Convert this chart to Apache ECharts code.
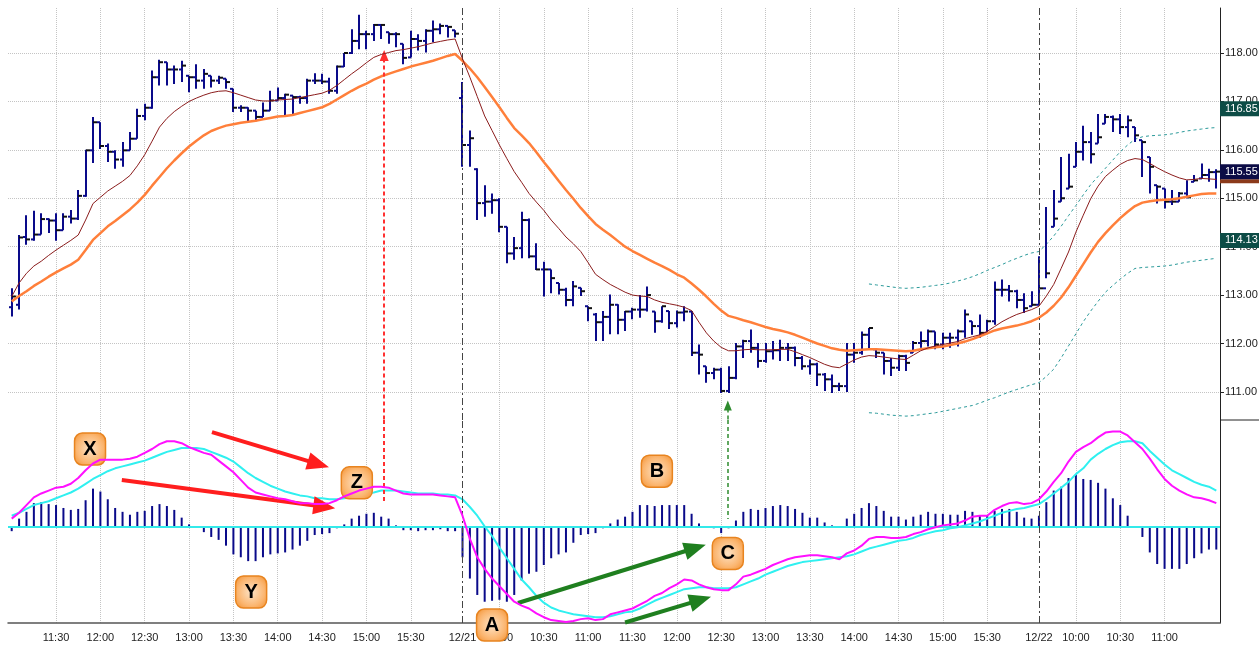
<!DOCTYPE html>
<html>
<head>
<meta charset="utf-8">
<title>Price bars with MACD</title>
<script src="https://cdn.jsdelivr.net/npm/echarts@6/dist/echarts.min.js"></script>
<style>
html, body { margin: 0; padding: 0; background: #fff; }
#main { width: 1259px; height: 647px; }
</style>
</head>
<body>
<div id="main"></div>
<script>
// sessions of 5 minute bars: date, first bar, number of bars
var sessions = [['12/20', '11:00', 61], ['12/21', '09:35', 78], ['12/22', '09:35', 25]];

// bars that get a time label / grid line (index into categories)
var tickIdx = [6, 12, 18, 24, 30, 36, 42, 48, 54, 61, 66, 72, 78, 84, 90, 96, 102, 108, 114, 120, 126, 132, 139, 144, 150, 156];

// price axis labels
var priceTicks = [111, 112, 113, 114, 115, 116, 117, 118];
var priceFlags = [116.85, 115.55, 114.13];

// ---- OHLC, day by day ----
var open1 = [112.75, 112.8, 114.2, 114.15, 114.25, 114.57, 114.54, 114.34, 114.62, 114.58,
  115.05, 115.99, 116.57, 116.08, 115.96, 115.8, 115.99, 116.23, 116.7, 116.87,
  117.5, 117.81, 117.66, 117.66, 117.53, 117.5, 117.43, 117.53, 117.43, 117.47,
  117.26, 116.87, 116.87, 116.81, 116.68, 116.81, 117.02, 117.07, 117.12, 117.09,
  117.07, 117.43, 117.43, 117.41, 117.22, 117.72, 118.0, 118.25, 118.39, 118.39,
  118.58, 118.43, 118.39, 118.19, 117.91, 118.29, 118.25, 118.46, 118.49, 118.56,
  118.47];
var high1 = [113.14, 114.24, 114.65, 114.74, 114.69, 114.58, 114.69, 114.69, 114.76, 115.17,
  116.0, 116.68, 116.57, 116.13, 115.99, 116.16, 116.37, 116.85, 116.95, 117.64,
  117.86, 117.81, 117.74, 117.84, 117.53, 117.77, 117.67, 117.53, 117.53, 117.47,
  117.26, 116.92, 116.88, 116.81, 116.98, 117.22, 117.29, 117.16, 117.12, 117.12,
  117.47, 117.58, 117.57, 117.49, 117.74, 118.0, 118.49, 118.79, 118.46, 118.6,
  118.6, 118.43, 118.43, 118.19, 118.46, 118.39, 118.49, 118.67, 118.61, 118.56,
  118.47];
var low1 = [112.56, 112.7, 114.04, 114.12, 114.25, 114.28, 114.12, 114.34, 114.48, 114.55,
  115.03, 115.73, 116.02, 115.75, 115.61, 115.65, 115.99, 116.23, 116.61, 116.85,
  117.33, 117.33, 117.36, 117.4, 117.19, 117.26, 117.26, 117.29, 117.36, 117.26,
  116.78, 116.78, 116.59, 116.59, 116.68, 116.81, 117.02, 116.71, 116.71, 116.95,
  116.95, 117.36, 117.36, 117.16, 117.16, 117.71, 117.98, 118.08, 118.08, 118.25,
  118.29, 118.19, 118.12, 117.77, 117.91, 118.05, 118.01, 118.22, 118.39, 118.32,
  118.32];
var close1 = [112.97, 114.19, 114.15, 114.25, 114.57, 114.54, 114.34, 114.62, 114.58, 115.05,
  115.99, 116.57, 116.08, 115.96, 115.8, 115.99, 116.23, 116.7, 116.87, 117.5,
  117.81, 117.66, 117.66, 117.74, 117.5, 117.43, 117.57, 117.43, 117.49, 117.4,
  116.87, 116.87, 116.81, 116.68, 116.81, 117.02, 117.07, 117.14, 117.09, 117.07,
  117.43, 117.43, 117.41, 117.22, 117.72, 118.0, 118.25, 118.39, 118.39, 118.58,
  118.58, 118.39, 118.39, 117.9, 118.29, 118.25, 118.46, 118.49, 118.56, 118.54,
  118.4];

var open2 = [117.07, 116.1, 115.6, 114.9, 114.93, 114.96, 114.41, 113.86, 113.97, 114.55,
  113.8, 113.53, 113.53, 113.25, 113.11, 112.9, 113.15, 112.77, 112.6, 112.44,
  112.55, 112.8, 112.49, 112.66, 112.7, 112.7, 112.66, 112.46, 112.67, 112.42,
  112.64, 112.66, 111.81, 111.53, 111.39, 111.46, 111.02, 111.29, 111.94, 112.05,
  111.91, 111.64, 111.84, 111.86, 111.91, 111.91, 111.7, 111.53, 111.57, 111.36,
  111.26, 111.12, 111.12, 111.77, 111.81, 112.18, 111.88, 111.81, 111.64, 111.5,
  111.74, 111.81, 112.01, 112.05, 112.25, 111.98, 112.12, 112.12, 112.25, 112.46,
  112.36, 112.22, 112.46, 113.11, 113.11, 113.08, 112.9, 112.77];
var high2 = [117.4, 116.4, 115.62, 115.27, 115.1, 115.0, 114.41, 114.2, 114.72, 114.58,
  114.07, 113.69, 113.53, 113.25, 113.15, 113.29, 113.15, 112.77, 112.63, 112.67,
  113.01, 112.81, 112.67, 112.74, 113.0, 113.18, 112.66, 112.77, 112.67, 112.68,
  112.77, 112.67, 111.98, 111.53, 111.5, 111.5, 111.53, 112.01, 112.08, 112.29,
  112.01, 112.01, 112.05, 112.08, 112.01, 111.94, 111.74, 111.67, 111.6, 111.39,
  111.36, 111.19, 112.01, 112.01, 112.25, 112.32, 111.88, 111.81, 111.7, 111.77,
  111.77, 112.05, 112.25, 112.29, 112.25, 112.22, 112.22, 112.29, 112.7, 112.46,
  112.6, 112.49, 113.28, 113.32, 113.21, 113.11, 113.04, 113.08];
var low2 = [115.65, 115.65, 114.55, 114.62, 114.68, 114.3, 113.66, 113.73, 113.76, 113.76,
  113.52, 112.97, 113.04, 113.01, 112.77, 112.77, 112.98, 112.46, 112.05, 112.05,
  112.19, 112.19, 112.26, 112.5, 112.53, 112.66, 112.22, 112.43, 112.3, 112.33,
  112.46, 111.74, 111.36, 111.19, 111.26, 110.98, 110.98, 111.26, 111.7, 111.81,
  111.5, 111.6, 111.67, 111.64, 111.64, 111.53, 111.46, 111.36, 111.12, 111.02,
  110.98, 111.02, 111.0, 111.6, 111.77, 111.88, 111.7, 111.36, 111.33, 111.43,
  111.43, 111.81, 111.91, 111.94, 111.88, 111.88, 111.91, 111.94, 112.12, 112.18,
  112.12, 112.22, 112.39, 112.97, 112.87, 112.73, 112.63, 112.77];
var close2 = [116.1, 116.24, 114.9, 114.93, 114.96, 114.41, 113.86, 113.97, 114.55, 113.8,
  113.53, 113.53, 113.35, 113.11, 112.9, 113.18, 113.08, 112.73, 112.44, 112.55,
  112.8, 112.49, 112.66, 112.7, 112.7, 113.0, 112.46, 112.77, 112.42, 112.64,
  112.66, 111.81, 111.77, 111.39, 111.46, 111.02, 111.29, 111.94, 112.05, 111.91,
  111.64, 111.84, 111.86, 111.91, 111.91, 111.7, 111.53, 111.57, 111.36, 111.26,
  111.12, 111.12, 111.77, 111.81, 112.18, 112.32, 111.81, 111.64, 111.5, 111.74,
  111.6, 112.01, 112.05, 112.25, 111.98, 112.12, 112.12, 112.25, 112.6, 112.36,
  112.22, 112.46, 113.11, 113.11, 113.08, 112.9, 112.73, 112.8];

var open3 = [112.8, 113.14, 114.41, 114.93, 115.2, 115.65, 115.96, 116.16, 116.13, 116.54,
  116.68, 116.63, 116.47, 116.47, 116.2, 115.85, 115.27, 115.2, 114.93, 114.93,
  115.1, 115.34, 115.41, 115.48, 115.54];
var high3 = [113.8, 114.82, 115.17, 115.85, 115.92, 116.16, 116.5, 116.37, 116.74, 116.74,
  116.71, 116.74, 116.71, 116.47, 116.2, 115.85, 115.27, 115.2, 115.17, 115.13,
  115.37, 115.48, 115.72, 115.61, 115.6];
var low3 = [112.8, 113.35, 114.41, 114.93, 115.2, 115.65, 115.78, 115.72, 116.13, 116.54,
  116.37, 116.33, 116.26, 116.16, 115.44, 115.1, 114.89, 114.79, 114.86, 114.93,
  115.0, 115.34, 115.41, 115.34, 115.2];
var close3 = [113.14, 113.45, 114.58, 115.0, 115.24, 115.96, 116.16, 115.91, 116.26, 116.68,
  116.63, 116.47, 116.61, 116.3, 116.16, 115.65, 115.24, 114.93, 114.93, 115.1,
  115.02, 115.37, 115.48, 115.54, 115.55];

// ---- moving averages ----
var maSlow1 = [112.87, 112.98, 113.08, 113.19, 113.28, 113.38, 113.47, 113.55, 113.63, 113.73,
  113.93, 114.14, 114.28, 114.42, 114.53, 114.65, 114.77, 114.91, 115.07, 115.26,
  115.44, 115.62, 115.78, 115.93, 116.07, 116.19, 116.3, 116.39, 116.45, 116.5,
  116.53, 116.56, 116.58, 116.6, 116.63, 116.66, 116.69, 116.7, 116.72, 116.76,
  116.8, 116.84, 116.88, 116.95, 117.04, 117.13, 117.22, 117.3, 117.37, 117.45,
  117.52, 117.57, 117.62, 117.67, 117.72, 117.76, 117.8, 117.84, 117.89, 117.94,
  117.98];
var maSlow2 = [117.84, 117.68, 117.5, 117.3, 117.09, 116.88, 116.66, 116.45, 116.3, 116.14,
  115.95, 115.75, 115.56, 115.36, 115.17, 114.99, 114.8, 114.63, 114.47, 114.35,
  114.24, 114.12, 114.0, 113.91, 113.83, 113.75, 113.67, 113.6, 113.52, 113.43,
  113.36, 113.24, 113.11, 112.97, 112.82, 112.68, 112.57, 112.53, 112.48, 112.44,
  112.39, 112.34, 112.3, 112.27, 112.23, 112.18, 112.12, 112.06, 112.0, 111.95,
  111.9, 111.87, 111.85, 111.86, 111.87, 111.88, 111.88, 111.87, 111.86, 111.85,
  111.84, 111.85, 111.88, 111.9, 111.92, 111.94, 111.97, 112.0, 112.04, 112.09,
  112.15, 112.21, 112.27, 112.31, 112.34, 112.37, 112.41, 112.46];
var maSlow3 = [112.53, 112.64, 112.78, 112.95, 113.16, 113.4, 113.64, 113.88, 114.1, 114.28,
  114.44, 114.59, 114.72, 114.84, 114.91, 114.94, 114.96, 114.97, 114.98, 115.0,
  115.03, 115.06, 115.09, 115.1, 115.1];

var maFast1 = [112.97, 113.25, 113.45, 113.6, 113.7, 113.82, 113.93, 114.03, 114.13, 114.24,
  114.55, 114.89, 115.02, 115.15, 115.25, 115.35, 115.47, 115.67, 115.9, 116.18,
  116.47, 116.65, 116.79, 116.9, 117.0, 117.07, 117.13, 117.18, 117.21, 117.22,
  117.18, 117.13, 117.08, 117.03, 117.01, 117.01, 117.03, 117.04, 117.05, 117.08,
  117.11, 117.14, 117.17, 117.23, 117.33, 117.45, 117.57, 117.68, 117.8, 117.91,
  117.97, 118.01, 118.05, 118.07, 118.1, 118.13, 118.17, 118.21, 118.24, 118.27,
  118.29];
var maFast2 = [117.88, 117.5, 117.1, 116.7, 116.4, 116.1, 115.82, 115.55, 115.33, 115.1,
  114.92, 114.75, 114.55, 114.38, 114.2, 114.06, 113.9, 113.67, 113.43, 113.32,
  113.22, 113.14, 113.06, 113.0, 112.98, 112.97, 112.9, 112.85, 112.82, 112.79,
  112.75, 112.68, 112.44, 112.22, 112.05, 111.92, 111.85, 111.85, 111.87, 111.88,
  111.87, 111.87, 111.87, 111.88, 111.88, 111.83, 111.77, 111.71, 111.64, 111.57,
  111.52, 111.5, 111.58, 111.66, 111.72, 111.75, 111.74, 111.72, 111.7, 111.68,
  111.67, 111.76, 111.85, 111.91, 111.95, 111.98, 112.01, 112.04, 112.1, 112.14,
  112.18, 112.25, 112.35, 112.45, 112.53, 112.6, 112.65, 112.7];
var maFast3 = [112.77, 112.98, 113.22, 113.55, 113.89, 114.3, 114.65, 114.99, 115.25, 115.45,
  115.58, 115.7, 115.78, 115.82, 115.8, 115.72, 115.63, 115.55, 115.48, 115.42,
  115.38, 115.39, 115.41, 115.4, 115.39];

// envelope, drawn from bar 116 on
var bandStart = 116;
var bandUpper = [113.23, 113.21, 113.19, 113.17, 113.15, 113.14, 113.15, 113.16, 113.18, 113.2,
  113.22, 113.25, 113.29, 113.33, 113.38, 113.44, 113.51, 113.57, 113.63, 113.7,
  113.76, 113.82, 113.87, 113.9, 114.05, 114.22, 114.42, 114.64, 114.85, 115.07,
  115.28, 115.45, 115.62, 115.79, 115.96, 116.1, 116.22, 116.27, 116.29, 116.3,
  116.31, 116.33, 116.36, 116.39, 116.41, 116.43, 116.45, 116.46];
var bandLower = [110.57, 110.56, 110.54, 110.52, 110.51, 110.5, 110.51, 110.53, 110.55, 110.57,
  110.6, 110.63, 110.66, 110.69, 110.72, 110.77, 110.83, 110.88, 110.94, 111.0,
  111.05, 111.1, 111.15, 111.19, 111.32, 111.47, 111.7, 111.95, 112.2, 112.45,
  112.67, 112.87, 113.06, 113.2, 113.33, 113.45, 113.55, 113.57, 113.58, 113.59,
  113.6, 113.62, 113.65, 113.68, 113.7, 113.72, 113.74, 113.76];

// ---- MACD panel ----
var macdLine = [0.08, 0.14, 0.22, 0.3, 0.34, 0.37, 0.4, 0.41, 0.44, 0.5,
  0.58, 0.65, 0.69, 0.69, 0.69, 0.69, 0.7, 0.72, 0.76, 0.8,
  0.85, 0.88, 0.88, 0.86, 0.82, 0.79, 0.76, 0.74, 0.68, 0.62,
  0.56, 0.48, 0.4, 0.35, 0.33, 0.31, 0.29, 0.28, 0.26, 0.24,
  0.24, 0.23, 0.23, 0.24, 0.27, 0.31, 0.34, 0.37, 0.39, 0.41,
  0.41, 0.4, 0.37, 0.34, 0.33, 0.33, 0.33, 0.33, 0.32, 0.31,
  0.3, 0.11, -0.13, -0.32, -0.44, -0.54, -0.62, -0.7, -0.78, -0.82,
  -0.85, -0.9, -0.94, -0.97, -0.98, -0.99, -0.98, -0.96, -0.95, -0.97,
  -0.96, -0.91, -0.89, -0.87, -0.85, -0.81, -0.77, -0.72, -0.69, -0.64,
  -0.6, -0.55, -0.56, -0.6, -0.63, -0.65, -0.66, -0.66, -0.6, -0.52,
  -0.5, -0.47, -0.44, -0.4, -0.37, -0.34, -0.32, -0.31, -0.3, -0.3,
  -0.31, -0.32, -0.34, -0.28, -0.25, -0.2, -0.13, -0.11, -0.11, -0.12,
  -0.12, -0.11, -0.08, -0.06, -0.03, -0.01, 0.01, 0.02, 0.03, 0.06,
  0.1, 0.11, 0.11, 0.17, 0.21, 0.24, 0.25, 0.23, 0.24, 0.28,
  0.36, 0.46, 0.55, 0.67, 0.77, 0.82, 0.86, 0.92, 0.97, 0.98,
  0.98, 0.94, 0.87, 0.8, 0.7, 0.59, 0.49, 0.42, 0.37, 0.33,
  0.3, 0.29, 0.27, 0.24];
var signalLine = [0.11, 0.14, 0.18, 0.22, 0.24, 0.26, 0.29, 0.32, 0.35, 0.39,
  0.44, 0.49, 0.53, 0.57, 0.6, 0.62, 0.64, 0.66, 0.68, 0.71,
  0.74, 0.77, 0.79, 0.81, 0.81, 0.81, 0.8, 0.77, 0.74, 0.71,
  0.67, 0.61, 0.55, 0.5, 0.46, 0.42, 0.39, 0.36, 0.34, 0.32,
  0.31, 0.29, 0.29, 0.28, 0.28, 0.29, 0.3, 0.32, 0.34, 0.35,
  0.37, 0.37, 0.37, 0.36, 0.35, 0.34, 0.34, 0.34, 0.33, 0.33,
  0.32, 0.28, 0.2, 0.11, 0.0, -0.1, -0.22, -0.33, -0.44, -0.55,
  -0.63, -0.72, -0.79, -0.84, -0.87, -0.89, -0.91, -0.92, -0.93, -0.94,
  -0.94, -0.93, -0.91, -0.89, -0.88, -0.85, -0.81, -0.77, -0.74, -0.71,
  -0.68, -0.65, -0.64, -0.63, -0.63, -0.64, -0.64, -0.64, -0.63, -0.6,
  -0.57, -0.54, -0.5, -0.47, -0.44, -0.41, -0.39, -0.37, -0.36, -0.35,
  -0.34, -0.33, -0.32, -0.31, -0.29, -0.26, -0.23, -0.21, -0.19, -0.17,
  -0.15, -0.14, -0.12, -0.09, -0.07, -0.05, -0.04, -0.02, -0.01, 0.01,
  0.03, 0.05, 0.08, 0.11, 0.14, 0.16, 0.18, 0.19, 0.21, 0.23,
  0.28, 0.34, 0.4, 0.46, 0.54, 0.6, 0.69, 0.75, 0.8, 0.84,
  0.87, 0.88, 0.88, 0.86, 0.78, 0.71, 0.64, 0.58, 0.54, 0.5,
  0.46, 0.43, 0.41, 0.37];
var histogram = [-0.05, 0.08, 0.15, 0.24, 0.25, 0.23, 0.22, 0.19, 0.17, 0.18,
  0.27, 0.39, 0.36, 0.28, 0.19, 0.15, 0.12, 0.15, 0.16, 0.21,
  0.23, 0.21, 0.17, 0.09, 0.02, 0.0, -0.06, -0.11, -0.14, -0.2,
  -0.29, -0.32, -0.36, -0.36, -0.32, -0.29, -0.28, -0.27, -0.24, -0.2,
  -0.15, -0.09, -0.08, -0.07, -0.02, 0.02, 0.08, 0.11, 0.13, 0.14,
  0.1, 0.08, 0.01, -0.04, -0.04, -0.05, -0.04, -0.04, -0.03, -0.05,
  -0.05, -0.32, -0.54, -0.71, -0.78, -0.77, -0.76, -0.78, -0.71, -0.56,
  -0.49, -0.47, -0.4, -0.33, -0.29, -0.27, -0.17, -0.09, -0.08, -0.07,
  -0.02, 0.03, 0.07, 0.1, 0.15, 0.22, 0.22, 0.21, 0.22, 0.22,
  0.22, 0.22, 0.13, 0.03, -0.01, -0.02, -0.07, -0.02, 0.06, 0.15,
  0.18, 0.17, 0.19, 0.21, 0.22, 0.21, 0.18, 0.14, 0.09, 0.09,
  0.04, 0.01, 0.0, 0.08, 0.13, 0.19, 0.24, 0.21, 0.16, 0.1,
  0.1, 0.07, 0.1, 0.12, 0.15, 0.13, 0.13, 0.12, 0.12, 0.16,
  0.15, 0.11, 0.11, 0.16, 0.18, 0.18, 0.15, 0.09, 0.08, 0.11,
  0.25, 0.37, 0.41, 0.5, 0.54, 0.49, 0.48, 0.45, 0.39, 0.29,
  0.22, 0.11, 0.0, -0.11, -0.27, -0.39, -0.44, -0.44, -0.44, -0.39,
  -0.33, -0.28, -0.24, -0.24];

// annotation boxes in the MACD panel: label, bar position, MACD value
var notes = [['X', 10.6, 0.80], ['Y', 32.4, -0.68], ['Z', 46.7, 0.45],
  ['A', 65.0, -0.99], ['B', 87.3, 0.57], ['C', 96.9, -0.28]];

// ---------------------------------------------------------------
function pad(n) { return (n < 10 ? '0' : '') + n; }

var categories = [];
var dayStarts = [];
sessions.forEach(function (s, si) {
  var hm = s[1].split(':');
  var m = +hm[0] * 60 + +hm[1];
  if (si > 0) dayStarts.push(categories.length);
  for (var i = 0; i < s[2]; i++, m += 5) {
    categories.push(s[0] + ' ' + pad(Math.floor(m / 60)) + ':' + pad(m % 60));
  }
});

var opens = open1.concat(open2, open3);
var highs = high1.concat(high2, high3);
var lows = low1.concat(low2, low3);
var closes = close1.concat(close2, close3);
var maSlow = maSlow1.concat(maSlow2, maSlow3);
var maFast = maFast1.concat(maFast2, maFast3);
var ohlc = closes.map(function (c, i) { return [i, opens[i], highs[i], lows[i], c]; });

function showTick(idx) { return tickIdx.indexOf(idx) >= 0; }
function showGrid(idx) { return tickIdx.indexOf(idx) >= 0 && dayStarts.indexOf(idx) < 0; }

function renderBar(params, api) {
  var i = api.value(0);
  var o = api.coord([i, api.value(1)]);
  var h = api.coord([i, api.value(2)]);
  var l = api.coord([i, api.value(3)]);
  var c = api.coord([i, api.value(4)]);
  var x = Math.round(h[0]);
  return {
    type: 'group',
    children: [
      { type: 'line', shape: { x1: x, y1: h[1], x2: x, y2: l[1] }, style: { stroke: '#0a0a8a', lineWidth: 2 } },
      { type: 'line', shape: { x1: x - 3, y1: o[1], x2: x, y2: o[1] }, style: { stroke: '#0a0a8a', lineWidth: 2 } },
      { type: 'line', shape: { x1: x, y1: c[1], x2: x + 4, y2: c[1] }, style: { stroke: '#111', lineWidth: 2 } }
    ]
  };
}

var gridLine = { show: true, alignWithLabel: true, interval: function (idx) { return showGrid(idx); },
  lineStyle: { color: '#c4c4c4', type: 'dotted', width: 1 } };
var sepStyle = { color: '#444', type: [7, 3, 2, 3], width: 1 };
var noLine = { color: 'rgba(0,0,0,0)', width: 0 };

function flag(v, bg) {
  return {
    yAxis: v,
    lineStyle: noLine,
    label: {
      show: true, position: 'end', distance: 0, formatter: v.toFixed(2), opacity: 1,
      color: '#fff', backgroundColor: bg, fontSize: 11, lineHeight: 13, padding: [1, 8, 1, 5]
    }
  };
}

var boxColor = {
  type: 'radial', x: 0.5, y: 0.5, r: 0.7,
  colorStops: [{ offset: 0, color: '#fde3c6' }, { offset: 0.6, color: '#fbb56f' }, { offset: 1, color: '#f08a26' }]
};

var myChart = echarts.init(document.getElementById('main'));
var option = {
  animation: false,
  backgroundColor: '#fff',
  textStyle: { fontFamily: 'Arial, "Liberation Sans", sans-serif' },
  graphic: [{
    type: 'line', shape: { x1: 1220, y1: 420, x2: 1259, y2: 420 },
    style: { stroke: '#222', lineWidth: 1 }
  }],
  grid: [
    { left: 8, right: 39, top: 8, height: 412, containLabel: false, outerBoundsMode: 'none' },
    { left: 8, right: 39, top: 420, height: 203, containLabel: false, outerBoundsMode: 'none' }
  ],
  xAxis: [
    {
      type: 'category', gridIndex: 0, data: categories, boundaryGap: true,
      axisLine: { show: false, onZero: false }, axisTick: { show: false }, axisLabel: { show: false },
      splitLine: gridLine
    },
    {
      type: 'category', gridIndex: 1, data: categories, boundaryGap: true, position: 'bottom',
      axisLine: { show: true, onZero: false, lineStyle: { color: '#555', width: 1.5 } },
      axisTick: { show: false },
      axisLabel: {
        interval: function (idx) { return showTick(idx); },
        formatter: function (val, idx) { return dayStarts.indexOf(idx) >= 0 ? val.slice(0, 5) : val.slice(6); },
        color: '#222', fontSize: 11, margin: 9
      },
      splitLine: gridLine
    },
    { type: 'value', gridIndex: 0, min: -0.5, max: 163.5, show: false, axisLine: { onZero: false } },
    { type: 'value', gridIndex: 1, min: -0.5, max: 163.5, show: false, axisLine: { onZero: false } }
  ],
  yAxis: [
    {
      type: 'value', gridIndex: 0, position: 'right', min: 110.42, max: 118.93,
      minInterval: 1, maxInterval: 1, splitNumber: 8,
      axisLine: { show: true, onZero: false, lineStyle: { color: '#222' } },
      axisTick: { show: true, length: 4, lineStyle: { color: '#222' } },
      axisLabel: {
        showMinLabel: false, showMaxLabel: false, margin: 5, color: '#222', fontSize: 11,
        formatter: function (v) { return priceTicks.indexOf(v) >= 0 ? v.toFixed(2) : ''; }
      },
      splitLine: { show: true, showMinLine: false, showMaxLine: false,
        lineStyle: { color: '#c4c4c4', type: 'dotted' } }
    },
    {
      type: 'value', gridIndex: 1, position: 'right', min: -1.0, max: 1.1,
      axisLine: { show: true, onZero: false, lineStyle: { color: '#222' } },
      axisTick: { show: false }, axisLabel: { show: false }, splitLine: { show: false }
    }
  ],
  series: [
    {
      name: 'bars', type: 'custom', xAxisIndex: 0, yAxisIndex: 0, z: 3,
      renderItem: renderBar, encode: { x: 0, y: [1, 2, 3, 4] }, data: ohlc
    },
    {
      name: 'upper', type: 'line', xAxisIndex: 0, yAxisIndex: 0, z: 2, symbol: 'none',
      data: bandUpper.map(function (v, j) { return [bandStart + j, v]; }),
      lineStyle: { color: '#2b9a9a', width: 1, type: [3, 3] }
    },
    {
      name: 'lower', type: 'line', xAxisIndex: 0, yAxisIndex: 0, z: 2, symbol: 'none',
      data: bandLower.map(function (v, j) { return [bandStart + j, v]; }),
      lineStyle: { color: '#2b9a9a', width: 1, type: [3, 3] }
    },
    {
      name: 'slow MA', type: 'line', xAxisIndex: 0, yAxisIndex: 0, z: 4, symbol: 'none',
      data: maSlow, lineStyle: { color: '#ff7f3a', width: 2.5 }
    },
    {
      name: 'fast MA', type: 'line', xAxisIndex: 0, yAxisIndex: 0, z: 5, symbol: 'none',
      data: maFast, lineStyle: { color: '#8b1c1c', width: 1 }
    },
    {
      name: 'histogram', type: 'bar', xAxisIndex: 1, yAxisIndex: 1, z: 3,
      data: histogram, barWidth: 2, itemStyle: { color: '#0a0a8a' },
      markLine: {
        silent: true, symbol: 'none', label: { show: false },
        lineStyle: { color: '#33eaea', width: 2, type: 'solid' },
        data: [{ yAxis: 0 }]
      }
    },
    {
      name: 'signal', type: 'line', xAxisIndex: 1, yAxisIndex: 1, z: 4, symbol: 'none',
      data: signalLine, lineStyle: { color: '#2ff0f0', width: 2 }
    },
    {
      name: 'MACD', type: 'line', xAxisIndex: 1, yAxisIndex: 1, z: 5, symbol: 'none',
      data: macdLine, lineStyle: { color: '#ff10ff', width: 2 }
    },
    {
      // separators, arrows and price flags on the price panel
      name: 'notes price', type: 'line', xAxisIndex: 2, yAxisIndex: 0, z: 6, data: [], silent: true, clip: false,
      markLine: {
        silent: true, symbol: 'none', label: { show: false },
        data: [
          { xAxis: 61, lineStyle: sepStyle },
          { xAxis: 139, lineStyle: sepStyle },
          [{ coord: [50.4, 110.43], lineStyle: { color: '#ff3030', type: [4, 3], width: 2 } },
           { coord: [50.4, 117.95], symbol: 'triangle', symbolSize: [9, 11] }],
          [{ coord: [96.9, 110.43], lineStyle: { color: '#2e8b2e', type: [4, 3], width: 1.5 } },
           { coord: [96.9, 110.72], symbol: 'triangle', symbolSize: [8, 10] }],
          { yAxis: 115.35, lineStyle: noLine,
            label: { show: true, position: 'end', distance: 0, formatter: ' ', fontSize: 4, lineHeight: 4, opacity: 1,
              padding: [0, 22, 0, 22], backgroundColor: '#8b3a1a' } },
          flag(priceFlags[0], '#0d4c46'),
          flag(priceFlags[1], '#0c0c46'),
          flag(priceFlags[2], '#0d4c46')
        ]
      }
    },
    {
      // separators, arrows and boxes on the MACD panel
      name: 'notes macd', type: 'line', xAxisIndex: 3, yAxisIndex: 1, z: 7, data: [], silent: true, clip: false,
      markLine: {
        silent: true, symbol: 'none', label: { show: false },
        data: [
          { xAxis: 61, lineStyle: sepStyle },
          { xAxis: 139, lineStyle: sepStyle },
          [{ coord: [50.4, 1.099], lineStyle: { color: '#ff3030', type: [4, 3], width: 2 } },
           { coord: [50.4, 0.24] }],
          [{ coord: [96.9, 1.099], lineStyle: { color: '#2e8b2e', type: [4, 3], width: 1.5 } },
           { coord: [96.9, 0.075] }],
          [{ coord: [27.1, 0.975], lineStyle: { color: '#ff1e1e', width: 4, type: 'solid' } },
           { coord: [41.5, 0.643], symbol: 'triangle', symbolSize: [18, 22] }],
          [{ coord: [14.9, 0.479], lineStyle: { color: '#ff1e1e', width: 4, type: 'solid' } },
           { coord: [42.3, 0.203], symbol: 'triangle', symbolSize: [18, 22] }],
          [{ coord: [68.5, -0.793], lineStyle: { color: '#1f7f1f', width: 4, type: 'solid' } },
           { coord: [92.5, -0.224], symbol: 'triangle', symbolSize: [18, 22] }],
          [{ coord: [83.0, -0.995], lineStyle: { color: '#1f7f1f', width: 4, type: 'solid' } },
           { coord: [93.2, -0.761], symbol: 'triangle', symbolSize: [18, 22] }]
        ]
      },
      markPoint: {
        silent: true, symbol: 'roundRect', symbolSize: [31, 32],
        itemStyle: { color: boxColor, borderColor: '#e8841f', borderWidth: 1.5 },
        label: { show: true, position: 'inside', formatter: '{b}', fontSize: 20, fontWeight: 'bold', color: '#000' },
        data: notes.map(function (n) {
          return { name: n[0], coord: [n[1], n[2]], symbolOffset: n[0] === 'A' ? [0, 3] : [0, 0] };
        })
      }
    }
  ]
};
myChart.setOption(option);
</script>
</body>
</html>
